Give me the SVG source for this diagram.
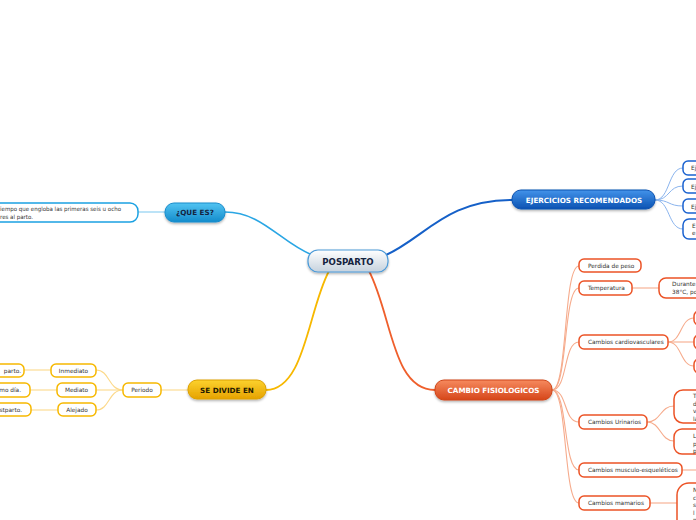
<svg xmlns="http://www.w3.org/2000/svg" width="696" height="520" viewBox="0 0 696 520">
<defs>
<linearGradient id="gBlue" x1="0" y1="0" x2="0" y2="1"><stop offset="0" stop-color="#52c4f2"/><stop offset="1" stop-color="#148ccc"/></linearGradient>
<linearGradient id="gDBlue" x1="0" y1="0" x2="0" y2="1"><stop offset="0" stop-color="#4393ea"/><stop offset="1" stop-color="#0c52b2"/></linearGradient>
<linearGradient id="gYel" x1="0" y1="0" x2="0" y2="1"><stop offset="0" stop-color="#fcd22e"/><stop offset="1" stop-color="#e6a200"/></linearGradient>
<linearGradient id="gOr" x1="0" y1="0" x2="0" y2="1"><stop offset="0" stop-color="#f68a5e"/><stop offset="1" stop-color="#d6461a"/></linearGradient>
<linearGradient id="gCen" x1="0" y1="0" x2="0" y2="1"><stop offset="0" stop-color="#ffffff"/><stop offset="1" stop-color="#c6d2de"/></linearGradient>
<filter id="sh" x="-20%" y="-30%" width="140%" height="180%"><feDropShadow dx="0" dy="1.5" stdDeviation="1" flood-color="#000" flood-opacity="0.3"/></filter>
</defs>
<style>
text{font-family:"DejaVu Sans","Verdana",sans-serif;}
.t{font-size:5.8px;fill:#333;}
.tc{font-size:5.8px;fill:#333;text-anchor:middle;}
.main{font-size:7.2px;font-weight:bold;text-anchor:middle;}
.w{fill:#fff;}
.dk{fill:#14233f;}
.nb{fill:#fff;stroke:#1ba1e2;stroke-width:1.5;}
.nd{fill:#fff;stroke:#1a62d0;stroke-width:1.5;}
.ny{fill:#fff;stroke:#f6b800;stroke-width:1.5;}
.no{fill:#fff;stroke:#ec5326;stroke-width:1.5;}
.c{fill:none;}
.cb{stroke:#2aa6e4;stroke-width:1.6;}
.cbl{stroke:#8fd0f2;stroke-width:1.2;}
.cd{stroke:#1560c8;stroke-width:2;}
.cdl{stroke:#8ab4ee;stroke-width:1;}
.cy{stroke:#f7b800;stroke-width:1.8;}
.cyl{stroke:#fcd98a;stroke-width:1.1;}
.co{stroke:#ef5f2c;stroke-width:1.8;}
.col{stroke:#f6ab8c;stroke-width:1.1;}
</style>
<g id="connectors" class="c">
<path class="c cb" d="M312,255 C280,242 262,212 225,212"/>
<path class="c cbl" d="M165,212 L138,212"/>
<path class="c cd" d="M384,256 C425,238 445,200 512,200"/>
<path class="c cdl" d="M655,200 C670,200 668,168 683,168"/>
<path class="c cdl" d="M655,200 C670,200 668,186 683,186"/>
<path class="c cdl" d="M655,200 C670,200 668,206 683,206"/>
<path class="c cdl" d="M655,200 C670,200 668,229 683,229"/>
<path class="c cy" d="M329,271 C308,310 305,390 266,390"/>
<path class="c cyl" d="M188,390 L161,390"/>
<path class="c cyl" d="M123,390 C108,390 110,370 96,370"/>
<path class="c cyl" d="M123,390 L96,390"/>
<path class="c cyl" d="M123,390 C108,390 110,410 96,410"/>
<path class="c cyl" d="M51,370 L24,370"/>
<path class="c cyl" d="M57,390 L30,390"/>
<path class="c cyl" d="M58,410 L31,410"/>
<path class="c co" d="M369,271 C392,315 392,390 435,390"/>
<path class="c col" d="M552,390 C568,390 563,266 579,266"/>
<path class="c col" d="M552,390 C568,390 563,288 579,288"/>
<path class="c col" d="M552,390 C568,390 563,342 579,342"/>
<path class="c col" d="M552,390 C568,390 563,422 579,422"/>
<path class="c col" d="M552,390 C568,390 563,470 579,470"/>
<path class="c col" d="M552,390 C568,390 563,503 579,503"/>
<path class="c col" d="M632,288 L659,288"/>
<path class="c col" d="M668,342 C682,342 680,318 694,318"/>
<path class="c col" d="M668,342 L694,342"/>
<path class="c col" d="M668,342 C682,342 680,366 694,366"/>
<path class="c col" d="M647,422 C661,422 660,406 674,406"/>
<path class="c col" d="M647,422 C661,422 660,441 674,441"/>
<path class="c col" d="M682,470 L696,470"/>
<path class="c col" d="M650,503 L677,503"/>
</g>
<g id="n-posparto">
<rect x="308" y="250" width="80" height="22" rx="10" fill="url(#gCen)" stroke="#4c9ad8" stroke-width="1.2" filter="url(#sh)"/>
<text x="348" y="265" class="main dk" style="font-size:8.6px">POSPARTO</text>
</g>
<g id="n-quees">
<rect x="165" y="203" width="60" height="19" rx="9" fill="url(#gBlue)" stroke="#1a8ccc" stroke-width="1" filter="url(#sh)"/>
<text x="195" y="215" class="main dk">¿QUE ES?</text>
</g>
<g id="n-quees-def">
<rect x="-20" y="203" width="158" height="19" rx="8" class="nb"/>
<text x="0" y="211" class="t" textLength="121" lengthAdjust="spacingAndGlyphs">iempo que engloba las primeras seis u ocho</text>
<text x="0" y="219" class="t" textLength="33" lengthAdjust="spacingAndGlyphs">res al parto.</text>
</g>
<g id="n-ejercicios">
<rect x="512" y="190" width="143" height="19" rx="9" fill="url(#gDBlue)" stroke="#0d52b0" stroke-width="1" filter="url(#sh)"/>
<text x="584" y="202.5" class="main w">EJERCICIOS RECOMENDADOS</text>
</g>
<g id="n-ej1"><rect x="683" y="161" width="30" height="14" rx="5" class="nd"/><text x="691" y="170" class="t">Ej</text></g>
<g id="n-ej2"><rect x="683" y="179" width="30" height="14" rx="5" class="nd"/><text x="691" y="188.5" class="t">Ej</text></g>
<g id="n-ej3"><rect x="683" y="199" width="30" height="14" rx="5" class="nd"/><text x="691" y="208.5" class="t">Ej</text></g>
<g id="n-ej4"><rect x="683" y="219" width="30" height="20" rx="6" class="nd"/><text x="692" y="228" class="t">E</text><text x="692" y="235" class="t">e</text></g>
<g id="n-divide">
<rect x="188" y="380" width="78" height="19" rx="9" fill="url(#gYel)" stroke="#dca000" stroke-width="1" filter="url(#sh)"/>
<text x="227" y="392.5" class="main" fill="#241a00">SE DIVIDE EN</text>
</g>
<g id="n-periodo"><rect x="123" y="383" width="38" height="14" rx="5" class="ny"/><text x="142" y="392" class="tc">Periodo</text></g>
<g id="n-inmediato"><rect x="51" y="364" width="45" height="13" rx="5" class="ny"/><text x="73.5" y="372.5" class="tc">Inmediato</text></g>
<g id="n-mediato"><rect x="57" y="383" width="39" height="14" rx="5" class="ny"/><text x="76.5" y="392" class="tc">Mediato</text></g>
<g id="n-alejado"><rect x="58" y="403" width="38" height="13" rx="5" class="ny"/><text x="77" y="411.5" class="tc">Alejado</text></g>
<g id="n-inm-def"><rect x="-20" y="364" width="44" height="13" rx="5" class="ny"/><text x="21" y="372.5" class="t" text-anchor="end">parto.</text></g>
<g id="n-med-def"><rect x="-20" y="383" width="50" height="14" rx="5" class="ny"/><text x="21" y="392" class="t" text-anchor="end">mo día.</text></g>
<g id="n-ale-def"><rect x="-20" y="403" width="51" height="13" rx="5" class="ny"/><text x="22" y="411.5" class="t" text-anchor="end">stparto.</text></g>
<g id="n-cambio">
<rect x="435" y="380" width="117" height="20" rx="9" fill="url(#gOr)" stroke="#cf4518" stroke-width="1" filter="url(#sh)"/>
<text x="493.5" y="393" class="main w">CAMBIO FISIOLOGICOS</text>
</g>
<g id="n-peso"><rect x="579" y="259" width="62" height="13" rx="5" class="no"/><text x="588" y="267.5" class="t">Perdida de peso</text></g>
<g id="n-temp"><rect x="579" y="281" width="53" height="14" rx="5" class="no"/><text x="588" y="290" class="t">Temperatura</text></g>
<g id="n-temp-def"><rect x="659" y="278" width="60" height="20" rx="7" class="no"/><text x="672" y="286" class="t">Durante</text><text x="672" y="294" class="t">38°C, po</text></g>
<g id="n-cardio"><rect x="579" y="335" width="89" height="14" rx="5" class="no"/><text x="588" y="344" class="t">Cambios cardiovasculares</text></g>
<g id="n-cardio1"><rect x="694" y="311" width="20" height="14" rx="5" class="no"/></g>
<g id="n-cardio2"><rect x="694" y="335" width="20" height="14" rx="5" class="no"/></g>
<g id="n-cardio3"><rect x="694" y="359" width="20" height="14" rx="5" class="no"/></g>
<g id="n-urin"><rect x="579" y="415" width="68" height="14" rx="5" class="no"/><text x="588" y="424" class="t">Cambios Urinarios</text></g>
<g id="n-urin1"><rect x="674" y="390" width="40" height="33" rx="9" class="no"/><text x="693" y="398" class="t">T</text><text x="693" y="405.5" class="t">d</text><text x="693" y="413" class="t">v</text><text x="693" y="420.5" class="t">la</text></g>
<g id="n-urin2"><rect x="674" y="429" width="40" height="25" rx="8" class="no"/><text x="693" y="438" class="t">La</text><text x="693" y="445.5" class="t">pr</text><text x="693" y="453" class="t">pu</text></g>
<g id="n-musc"><rect x="579" y="463" width="103" height="14" rx="5" class="no"/><text x="588" y="472" class="t">Cambios musculo-esqueléticos</text></g>
<g id="n-mam"><rect x="579" y="496" width="71" height="14" rx="5" class="no"/><text x="588" y="505" class="t">Cambios mamarios</text></g>
<g id="n-mam1"><rect x="677" y="483" width="40" height="50" rx="12" class="no"/><text x="693" y="492" class="t">N</text><text x="693" y="499.5" class="t">c</text><text x="693" y="507" class="t">s</text><text x="693" y="514.5" class="t">l</text><text x="693" y="522" class="t">n</text></g>
</svg>
